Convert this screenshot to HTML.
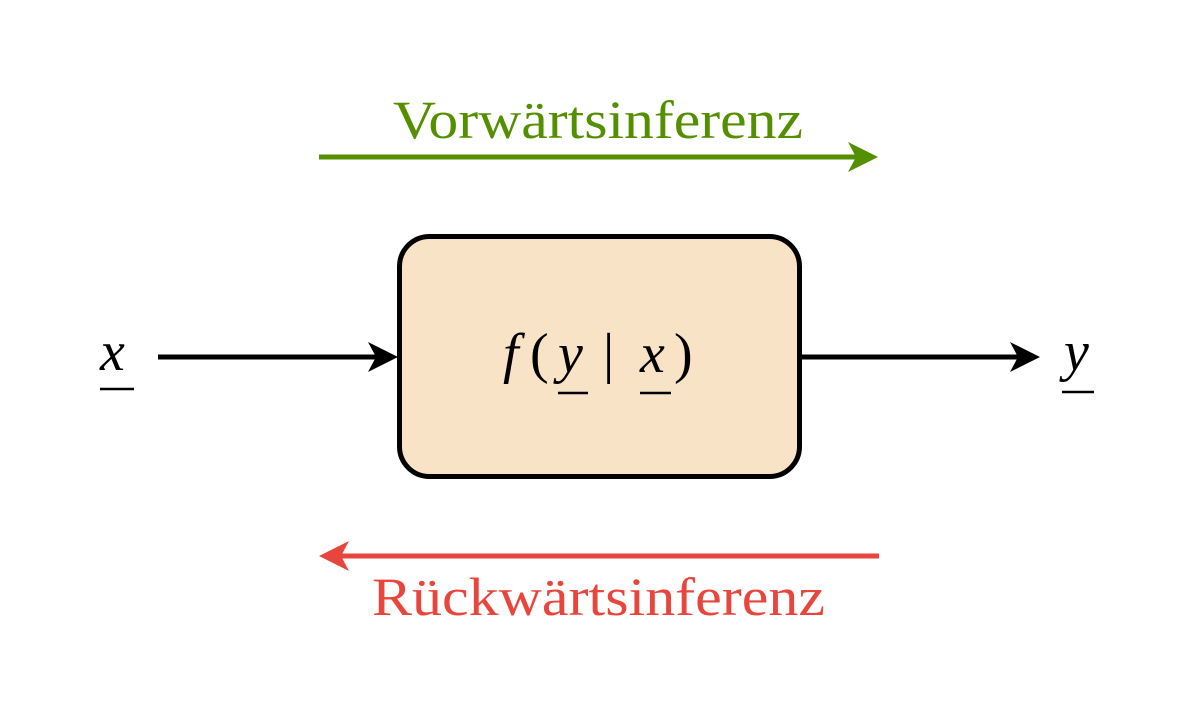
<!DOCTYPE html>
<html><head><meta charset="utf-8"><style>html,body{margin:0;padding:0;background:#fff}svg{display:block}</style></head>
<body>
<svg width="1200" height="710" viewBox="0 0 1200 710" xmlns="http://www.w3.org/2000/svg">
<rect width="1200" height="710" fill="#fff"/>
<text x="393" y="138" font-family="Liberation Serif, serif" font-size="54" fill="#548f00" textLength="410" lengthAdjust="spacingAndGlyphs">Vorwärtsinferenz</text>
<line x1="319" y1="157" x2="860" y2="157" stroke="#548f00" stroke-width="5"/>
<polygon points="878,157 848,142 856,157 848,172" fill="#548f00"/>
<rect x="399.5" y="236.5" width="400" height="240" rx="30" fill="#f9e3c6" stroke="#000" stroke-width="5"/>
<g font-family="Liberation Serif, serif" font-size="56" font-style="italic">
<text x="503" y="372">f</text>
<text x="530" y="372" font-style="normal">(</text>
<text x="558" y="372">y</text>
<text x="603" y="372" font-style="normal">|</text>
<text x="640" y="372">x</text>
<text x="674" y="372" font-style="normal">)</text>
</g>
<line x1="558" y1="393" x2="588" y2="393" stroke="#000" stroke-width="2.5"/>
<line x1="640" y1="393" x2="671" y2="393" stroke="#000" stroke-width="2.5"/>
<line x1="158" y1="357" x2="380" y2="357" stroke="#000" stroke-width="5"/>
<polygon points="398,357 368,342 376,357 368,372" fill="#000"/>
<line x1="800" y1="357" x2="1022" y2="357" stroke="#000" stroke-width="5"/>
<polygon points="1040,357 1010,342 1018,357 1010,372" fill="#000"/>
<text x="100" y="370" font-family="Liberation Serif, serif" font-size="56" font-style="italic">x</text>
<line x1="100" y1="389" x2="134" y2="389" stroke="#000" stroke-width="2.5"/>
<text x="1064" y="370" font-family="Liberation Serif, serif" font-size="56" font-style="italic">y</text>
<line x1="1062" y1="392" x2="1094" y2="392" stroke="#000" stroke-width="2.5"/>
<line x1="337" y1="556" x2="879" y2="556" stroke="#e8453c" stroke-width="5"/>
<polygon points="319,556 349,541 341,556 349,571" fill="#e8453c"/>
<text x="372" y="615" font-family="Liberation Serif, serif" font-size="54" fill="#e8453c" textLength="453" lengthAdjust="spacingAndGlyphs">Rückwärtsinferenz</text>
</svg>
</body></html>
